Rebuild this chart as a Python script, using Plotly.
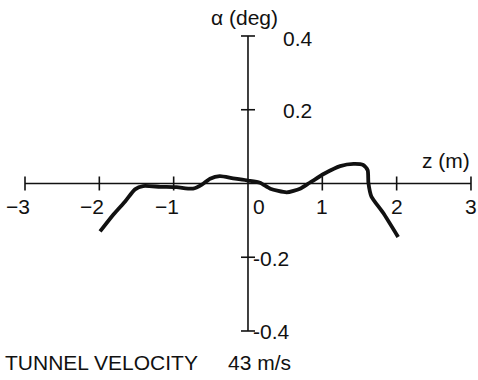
import plotly.graph_objects as go

# Angle of attack along the tunnel axis
z_m = [-1.99, -1.81, -1.65, -1.52, -1.41, -1.18, -0.96, -0.74, -0.62, -0.51,
       -0.38, -0.20, 0.00, 0.16, 0.30, 0.52, 0.70, 0.83, 1.03, 1.24,
       1.42, 1.55, 1.61, 1.62, 1.66, 1.82, 2.02]
alpha_deg = [-0.130, -0.084, -0.048, -0.016, -0.007, -0.009, -0.010, -0.014, -0.003, 0.013,
             0.020, 0.014, 0.008, 0.002, -0.014, -0.024, -0.014, 0.002, 0.027, 0.047,
             0.053, 0.050, 0.036, 0.002, -0.035, -0.080, -0.145]

x_ticks = [-3, -2, -1, 0, 1, 2, 3]
x_tick_text = ["\u22123", "\u22122", "\u22121", "0", "1", "2", "3"]
y_ticks = [0.4, 0.2, -0.2, -0.4]
y_tick_text = ["0.4", "0.2", "-0.2", "-0.4"]

x_title = "z (m)"
y_title = "\u03b1 (deg)"
caption_label = "TUNNEL VELOCITY"
caption_value = "43 m/s"

FONT = "Liberation Sans, Arial, sans-serif"
INK = "#111111"
FS = 21

fig = go.Figure()

# cross-shaped axes through the origin
fig.add_trace(go.Scatter(x=[x_ticks[0], x_ticks[-1]], y=[0, 0], mode="lines",
                         line=dict(color=INK, width=1.6), hoverinfo="skip"))
fig.add_trace(go.Scatter(x=[0, 0], y=[y_ticks[-1], y_ticks[0]], mode="lines",
                         line=dict(color=INK, width=1.6), hoverinfo="skip"))

# tick marks crossing the axis lines
xt = [v for v in x_ticks if v != 0]
fig.add_trace(go.Scatter(x=xt, y=[0] * len(xt), mode="markers",
                         marker=dict(symbol="line-ns-open", size=10, color=INK,
                                     line=dict(color=INK, width=1.6)),
                         hoverinfo="skip"))
fig.add_trace(go.Scatter(x=[0] * len(y_ticks), y=y_ticks, mode="markers",
                         marker=dict(symbol="line-ew-open", size=10, color=INK,
                                     line=dict(color=INK, width=1.6)),
                         hoverinfo="skip"))

# measured curve
fig.add_trace(go.Scatter(x=z_m, y=alpha_deg, mode="lines",
                         line=dict(color=INK, width=3.8, shape="spline", smoothing=0.6),
                         hoverinfo="skip"))

ann = []
for v, t in zip(x_ticks, x_tick_text):
    if v < 0:
        ann.append(dict(x=v, y=0, text=t, xanchor="right", yanchor="middle",
                        xshift=7, yshift=-23, showarrow=False))
    elif v == 0:
        ann.append(dict(x=v, y=0, text=t, xanchor="left", yanchor="middle",
                        xshift=3, yshift=-23, showarrow=False))
    else:
        ann.append(dict(x=v, y=0, text=t, xanchor="center", yanchor="middle",
                        yshift=-23, showarrow=False))
for v, t in zip(y_ticks, y_tick_text):
    ann.append(dict(x=0, y=v, text=t, xanchor="left", yanchor="middle",
                    xshift=(33 if v > 0 else 3),
                    yshift=(-3 if v == max(y_ticks) else -1),
                    showarrow=False))

ann.append(dict(x=x_ticks[-1], y=0, text=x_title, xanchor="right", yanchor="middle",
                xshift=1, yshift=23, showarrow=False))
ann.append(dict(x=0, y=y_ticks[0], text=y_title, xanchor="center", yanchor="middle",
                xshift=-3, yshift=18, showarrow=False))
ann.append(dict(x=0.006, y=0.047, xref="paper", yref="paper", text=caption_label,
                xanchor="left", yanchor="middle", showarrow=False))
ann.append(dict(x=0.613, y=0.047, xref="paper", yref="paper", text=caption_value,
                xanchor="right", yanchor="middle", showarrow=False))

fig.update_layout(
    width=478, height=380,
    margin=dict(l=0, r=0, t=0, b=0),
    paper_bgcolor="white", plot_bgcolor="white",
    showlegend=False,
    font=dict(family=FONT, size=FS, color=INK),
    annotations=ann,
    xaxis=dict(range=[-3.3363, 3.0945], visible=False, fixedrange=True),
    yaxis=dict(range=[-0.5329, 0.4976], visible=False, fixedrange=True),
)

fig.write_html("out.html")
